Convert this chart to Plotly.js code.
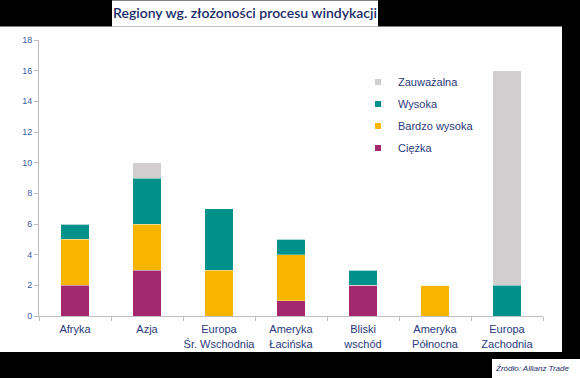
<!DOCTYPE html>
<html><head><meta charset="utf-8">
<script src="https://cdn.plot.ly/plotly-3.0.1.min.js"></script>
<style>html,body{margin:0;padding:0;background:#000;}#chart{width:580px;height:378px;}</style>
</head><body><div id="chart"></div>
<script>
const categories = ['Afryka','Azja','Europa<br>Śr. Wschodnia','Ameryka<br>Łacińska','Bliski<br>wschód','Ameryka<br>Północna','Europa<br>Zachodnia'];
const ciezka = [2,3,0,1,2,0,0];
const bardzoWysoka = [3,3,3,3,0,2,0];
const wysoka = [1,3,4,1,1,0,2];
const zauwazalna = [0,1,0,0,0,0,14];
const seriesNames = ['Ciężka','Bardzo wysoka','Wysoka','Zauważalna'];
const seriesColors = ['#a3286e','#f7b500','#00918a','#d2cdce'];
const seriesValues = [ciezka, bardzoWysoka, wysoka, zauwazalna];

// plot area in px
const L=39, R=543, T=39.5, B=316;
const fx = px => (px-L)/(R-L);
const fy = py => (B-py)/(B-T);
function rect(x0,y0,x1,y1){return {type:'rect',xref:'paper',yref:'paper',x0:fx(x0),x1:fx(x1),y0:fy(y1),y1:fy(y0),fillcolor:'#ffffff',line:{width:0},layer:'below'};}

const traces = [];
seriesValues.forEach((v,i)=>{
  traces.push({type:'bar',x:categories,y:v,name:seriesNames[i],width:0.4,
    marker:{color:seriesColors[i],line:{color:'rgba(255,255,255,0.5)',width:0.6}},showlegend:false,hoverinfo:'skip'});
});
// legend entries, top to bottom: Zauważalna, Wysoka, Bardzo wysoka, Ciężka
[3,2,1,0].forEach((i,k)=>{
  traces.push({type:'scatter',mode:'markers',x:[null],y:[null],name:seriesNames[i],legendgroup:'g'+k,
    marker:{symbol:'square',size:6,color:seriesColors[i]},showlegend:true});
});

const layout = {
  width:580,height:378,
  margin:{l:L,r:580-R,t:T,b:378-B,pad:0},
  paper_bgcolor:'#000000',plot_bgcolor:'rgba(0,0,0,0)',
  barmode:'stack',
  title:{text:'Regiony wg. złożoności procesu windykacji',font:{family:'Lato, sans-serif',size:14,color:'#1c2b68',weight:600},
    xref:'paper',x:fx(245),xanchor:'center',yref:'container',y:1-13/378,yanchor:'middle'},
  xaxis:{type:'category',categoryorder:'array',categoryarray:categories,showline:true,linecolor:'#bdbdbd',linewidth:1,
    ticks:'outside',tickson:'boundaries',ticklen:4,tickcolor:'#bdbdbd',showgrid:false,zeroline:false,tickangle:0,
    ticklabelstandoff:3,
    tickfont:{family:'Liberation Sans, Arial, sans-serif',size:11,color:'#2a3a7c'},fixedrange:true},
  yaxis:{range:[0,18],dtick:2,showline:true,linecolor:'#bdbdbd',linewidth:1,ticks:'outside',ticklen:4,tickcolor:'#bdbdbd',
    showgrid:false,zeroline:false,tickfont:{family:'Liberation Sans, Arial, sans-serif',size:9,color:'#3d5ca8'},fixedrange:true},
  legend:{x:fx(358),xanchor:'left',y:fy(67),yanchor:'top',traceorder:'grouped',tracegroupgap:3,
    bgcolor:'rgba(0,0,0,0)',font:{family:'Liberation Sans, Arial, sans-serif',size:11,color:'#2a3a7c'}},
  shapes:[rect(0,26,562,352),rect(112,0,378,26),rect(492,359,580,378)],
  annotations:[{text:'<i>Źródło: Allianz Trade</i>',xref:'paper',yref:'paper',x:fx(493),y:fy(369),xanchor:'left',yanchor:'middle',
    showarrow:false,font:{family:'Liberation Sans, Arial, sans-serif',size:8,color:'#1c2b68'}}]
};
Plotly.newPlot('chart',traces,layout,{displayModeBar:false,staticPlot:true});
</script></body></html>
